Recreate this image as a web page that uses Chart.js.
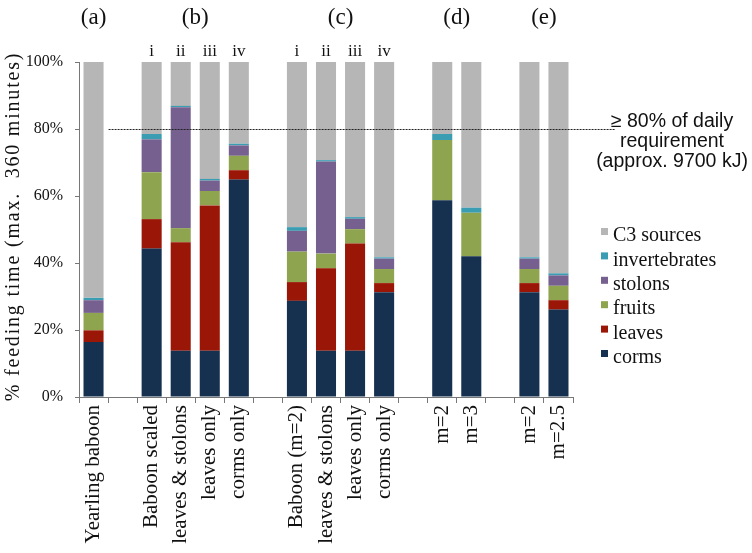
<!DOCTYPE html>
<html>
<head>
<meta charset="utf-8">
<script src="https://cdn.jsdelivr.net/npm/chart.js@4.4.0/dist/chart.umd.min.js"></script>
<style>
    html, body { margin: 0; padding: 0; background: #fff; }
    #wrap { width: 752px; height: 553px; position: relative; }
</style>
</head>
<body>
<div id="wrap"><canvas id="feedChart"></canvas></div>
<script>
// ─── Data (gaps between groups are empty categories) ───
const categories = ['Yearling baboon', '', 'Baboon scaled', 'leaves & stolons', 'leaves only', 'corms only', '',
    'Baboon (m=2)', 'leaves & stolons', 'leaves only', 'corms only', '', 'm=2', 'm=3', '', 'm=2', 'm=2.5'];
const corms         = [16.4, null, 44.3, 13.8, 13.8, 64.9, null, 28.7, 13.8, 13.8, 31.3, null, 58.7, 42.0, null, 31.3, 26.1];
const leaves        = [ 3.5, null,  8.8, 32.4, 43.4,  2.8, null,  5.6, 24.6, 32.0,  2.7, null,  0,    0,   null,  2.7,  2.8];
const fruits        = [ 5.2, null, 14.0,  4.2,  4.3,  4.3, null,  9.1,  4.4,  4.3,  4.2, null, 18.0, 13.0, null,  4.2,  4.3];
const stolons       = [ 3.8, null,  9.8, 36.1,  3.1,  3.1, null,  6.2, 27.5,  3.1,  3.1, null,  0,    0,   null,  3.1,  3.1];
const invertebrates = [ 0.7, null,  1.6,  0.4,  0.5,  0.5, null,  1.1,  0.4,  0.5,  0.4, null,  1.8,  1.5, null,  0.4,  0.6];
const c3Sources     = [70.4, null, 21.5, 13.1, 34.9, 24.4, null, 49.3, 29.3, 46.3, 58.3, null, 21.5, 43.5, null, 58.3, 63.1];
const yTicks = [0, 20, 40, 60, 80, 100];
const requirementLevel = 80;

// group headings: [label, first index, last index]
const groups = [['(a)', 0, 0], ['(b)', 2, 5], ['(c)', 7, 10], ['(d)', 12, 13], ['(e)', 15, 16]];
const numerals = [['i', 2], ['ii', 3], ['iii', 4], ['iv', 5], ['i', 7], ['ii', 8], ['iii', 9], ['iv', 10]];
const noteLines = ['\u2265 80% of daily', 'requirement', '(approx. 9700 kJ)'];
const yTitle = '% feeding time (max.  360 minutes)';

const SERIF = '"Liberation Serif", "DejaVu Serif", serif';
const SANS = '"Liberation Sans", Arial, sans-serif';

const series = [
    { label: 'corms', data: corms, color: '#16304f' },
    { label: 'leaves', data: leaves, color: '#9a1606' },
    { label: 'fruits', data: fruits, color: '#8ea44e' },
    { label: 'stolons', data: stolons, color: '#76608f' },
    { label: 'invertebrates', data: invertebrates, color: '#3b9db1' },
    { label: 'C3 sources', data: c3Sources, color: '#b6b6b6' }
];

// ─── Extras drawn on top: headings, 80% line, note, legend, y title ───
const extras = {
    id: 'extras',
    afterDatasetsDraw(chart) {
        const c = chart.ctx;
        const x = chart.scales.x, y = chart.scales.y;
        c.save();
        c.fillStyle = '#111';
        c.textAlign = 'center';
        c.textBaseline = 'middle';

        c.font = '23px ' + SERIF;
        groups.forEach(([t, a, b]) => {
            c.fillText(t, (x.getPixelForValue(a) + x.getPixelForValue(b)) / 2, 18);
        });
        c.font = '17px ' + SERIF;
        numerals.forEach(([t, i]) => c.fillText(t, x.getPixelForValue(i), 52));

        // y title
        c.save();
        c.translate(14, (y.top + y.bottom) / 2 - 3);
        c.rotate(-Math.PI / 2);
        c.font = '20px ' + SERIF;
        c.letterSpacing = '1.8px';
        c.fillText(yTitle, 0, 0);
        c.restore();

        // dotted requirement line
        const yl = Math.round(y.getPixelForValue(requirementLevel)) + 0.5;
        c.strokeStyle = '#222';
        c.lineWidth = 1;
        c.setLineDash([2, 1]);
        c.beginPath();
        c.moveTo(x.getPixelForValue(1) - 14, yl);
        c.lineTo(615, yl);
        c.stroke();
        c.setLineDash([]);

        c.font = '19.5px ' + SANS;
        noteLines.forEach((t, i) => c.fillText(t, 672, 122 + i * 20));

        // legend, top = C3 sources
        c.textAlign = 'left';
        c.font = '20px ' + SERIF;
        series.slice().reverse().forEach((s, i) => {
            const ty = 236 + i * 24.4;
            c.fillStyle = s.color;
            c.fillRect(601, ty - 8, 7, 7);
            c.fillStyle = '#111';
            c.fillText(s.label, 613, ty);
        });
        c.restore();
    }
};

new Chart(document.getElementById('feedChart'), {
    type: 'bar',
    data: {
        labels: categories,
        datasets: series.map(s => ({
            label: s.label,
            data: s.data,
            backgroundColor: s.color,
            borderWidth: 0,
            categoryPercentage: 1,
            barPercentage: 0.69
        }))
    },
    options: {
        responsive: true,
        maintainAspectRatio: false,
        animation: false,
        layout: { padding: { top: 62, right: 179, left: 0, bottom: 0 } },
        plugins: {
            legend: { display: false },
            tooltip: { enabled: false }
        },
        scales: {
            x: {
                stacked: true,
                afterFit: s => { s.height = 156; },
                grid: { drawOnChartArea: false, offset: true, tickLength: 6, color: '#777' },
                border: { color: '#777' },
                ticks: {
                    autoSkip: false,
                    maxRotation: 90,
                    minRotation: 90,
                    padding: 2,
                    color: '#111',
                    font: { family: SERIF, size: 21 }
                }
            },
            y: {
                stacked: true,
                min: 0,
                max: 100,
                afterFit: s => { s.width = 79; },
                afterBuildTicks: s => { s.ticks = yTicks.map(v => ({ value: v })); },
                grid: { drawOnChartArea: false, tickLength: 4, color: '#777' },
                border: { color: '#777' },
                ticks: {
                    padding: 12,
                    color: '#111',
                    font: { family: SERIF, size: 16 },
                    callback: v => v + '%'
                }
            }
        }
    },
    plugins: [extras]
});
</script>
</body>
</html>
